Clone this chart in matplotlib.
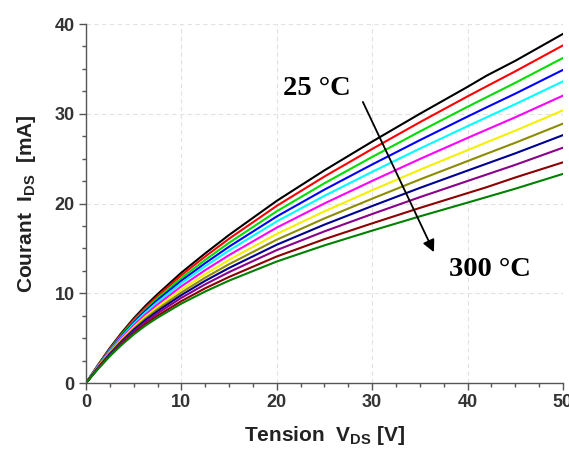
import matplotlib
matplotlib.use("Agg")
import matplotlib.pyplot as plt
from matplotlib.ticker import MultipleLocator

plt.rcParams['font.family'] = ['Liberation Sans', 'DejaVu Sans']

# drain voltage [V]
vds = [0, 1.25, 2.5, 3.75, 5, 6.25, 7.5, 10, 12.5, 15, 20, 25, 30, 35, 40, 42, 45, 50]

# drain current [mA], 25 C (top) to 300 C (bottom)
i_black = [0, 2.00, 3.90, 5.62, 7.20, 8.62, 9.90, 12.30, 14.45, 16.50, 20.30, 23.70, 26.90, 30.00, 33.00, 34.25, 35.90, 38.90]
i_red = [0, 1.96, 3.83, 5.51, 7.05, 8.43, 9.68, 12.02, 14.10, 16.08, 19.74, 23.01, 26.08, 29.06, 31.94, 33.06, 34.73, 37.62]
i_green = [0, 1.92, 3.74, 5.38, 6.89, 8.23, 9.45, 11.71, 13.72, 15.62, 19.14, 22.26, 25.19, 28.03, 30.78, 31.85, 33.45, 36.22]
i_blue = [0, 1.88, 3.67, 5.27, 6.74, 8.05, 9.23, 11.41, 13.36, 15.19, 18.56, 21.55, 24.35, 27.06, 29.69, 30.72, 32.24, 34.89]
i_cyan = [0, 1.85, 3.59, 5.15, 6.59, 7.86, 9.01, 11.13, 13.01, 14.77, 18.01, 20.86, 23.53, 26.12, 28.62, 29.61, 31.07, 33.61]
i_magenta = [0, 1.80, 3.50, 5.01, 6.41, 7.64, 8.74, 10.78, 12.58, 14.25, 17.32, 20.01, 22.52, 24.96, 27.31, 28.23, 29.61, 32.02]
i_yellow = [0, 1.75, 3.40, 4.87, 6.22, 7.41, 8.47, 10.41, 12.13, 13.72, 16.61, 19.13, 21.48, 23.76, 25.95, 26.82, 28.12, 30.38]
i_olive = [0, 1.71, 3.32, 4.75, 6.05, 7.20, 8.22, 10.09, 11.74, 13.24, 15.97, 18.34, 20.54, 22.68, 24.73, 25.55, 26.77, 28.90]
i_navy = [0, 1.68, 3.24, 4.63, 5.91, 7.02, 8.01, 9.80, 11.39, 12.82, 15.41, 17.65, 19.72, 21.74, 23.67, 24.44, 25.59, 27.62]
i_purple = [0, 1.64, 3.16, 4.51, 5.74, 6.82, 7.77, 9.49, 11.00, 12.36, 14.81, 16.90, 18.83, 20.71, 22.51, 23.23, 24.31, 26.22]
i_darkred = [0, 1.59, 3.07, 4.37, 5.56, 6.59, 7.50, 9.13, 10.56, 11.82, 14.10, 16.03, 17.79, 19.51, 21.16, 21.82, 22.90, 24.59]
i_darkgreen = [0, 1.55, 2.99, 4.26, 5.41, 6.41, 7.28, 8.85, 10.20, 11.41, 13.54, 15.34, 16.98, 18.57, 20.10, 20.72, 21.65, 23.30]

curves = [i_black, i_red, i_green, i_blue, i_cyan, i_magenta,
          i_yellow, i_olive, i_navy, i_purple, i_darkred, i_darkgreen]
colors = ['#000000', '#ff0000', '#00dd00', '#0000ff', '#00ffff', '#ff00ff',
          '#f5f000', '#8c8c00', '#000090', '#8a008a', '#8b0000', '#008000']

fig = plt.figure(figsize=(5.69, 4.55), dpi=100)
ax = fig.add_axes([0.1511, 0.1582, 0.8383, 0.789])

for cur, c in zip(curves, colors):
    ax.plot(vds, cur, color=c, lw=1.5)

ax.set_xlim(0, 50)
ax.set_ylim(0, 40)
ax.xaxis.set_major_locator(MultipleLocator(10))
ax.xaxis.set_minor_locator(MultipleLocator(2.5))
ax.yaxis.set_major_locator(MultipleLocator(10))
ax.yaxis.set_minor_locator(MultipleLocator(2.5))
ax.grid(True, which='major', color='#e2e2e2', ls=(0, (4, 3)), lw=0.8)
ax.set_axisbelow(True)

ax.spines['top'].set_visible(False)
ax.spines['right'].set_visible(False)
for s in ['left', 'bottom']:
    ax.spines[s].set_color('#555555')
    ax.spines[s].set_linewidth(1.0)
ax.tick_params(which='major', length=5, width=1, color='#555555',
               labelsize=13, pad=3)
ax.tick_params(which='minor', length=3, width=1, color='#555555')
for lab in ax.get_xticklabels() + ax.get_yticklabels():
    lab.set_fontweight('bold')
    lab.set_color('#333333')

ax.set_xlabel(r'Tension  V$_{\mathregular{DS}}$ [V]', fontsize=15,
              fontweight='bold', color='#222222', labelpad=9)
ax.set_ylabel(r'Courant  I$_{\mathregular{DS}}$  [mA]', fontsize=15,
              fontweight='bold', color='#222222', labelpad=12)

ax.annotate('', xy=(36.6, 14.3), xytext=(28.9, 31.6),
            arrowprops=dict(arrowstyle='-|>', color='black', lw=1.3,
                            mutation_scale=18))
ax.text(24.2, 32.8, '25 °C', fontsize=20.5, fontweight='bold',
        family='Liberation Serif', ha='center', va='center')
ax.text(42.3, 12.7, '300 °C', fontsize=20.5, fontweight='bold',
        family='Liberation Serif', ha='center', va='center')

fig.savefig('out.png', dpi=100)
